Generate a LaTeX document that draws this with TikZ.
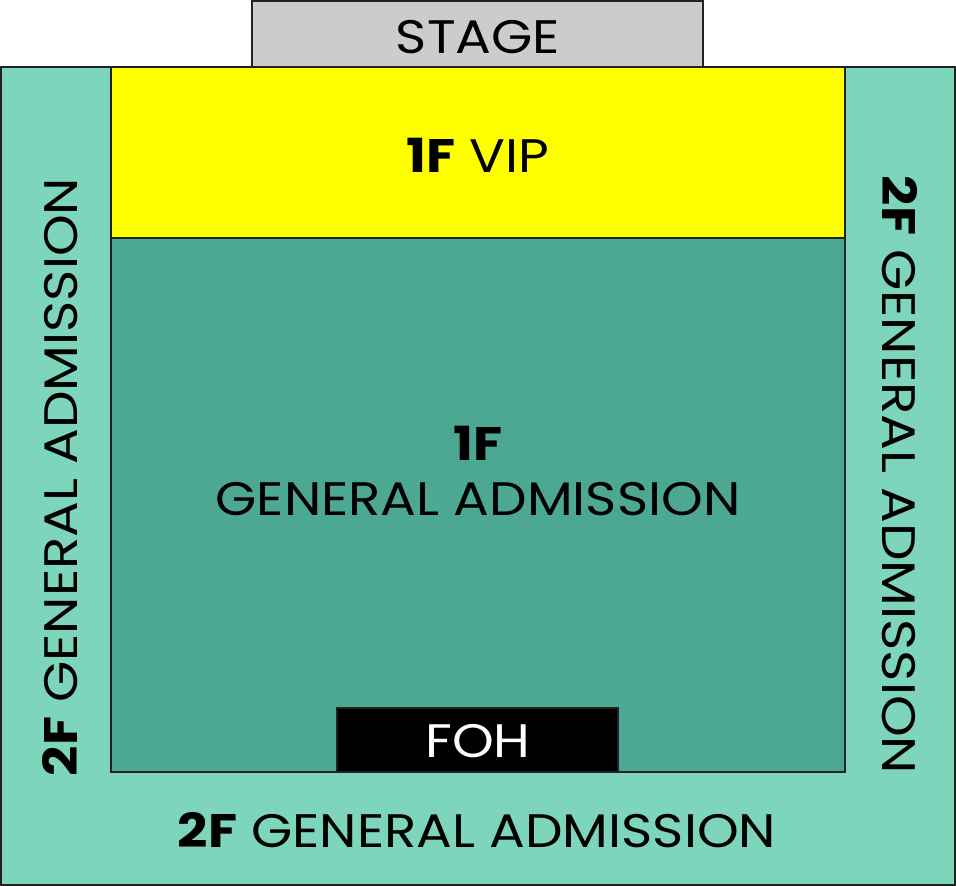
\documentclass[tikz,border=0pt]{standalone}
\usepackage{fontspec}
\setmainfont{Poppins}[FakeStretch=1.13]
\usepackage{xcolor}
\usepackage{tikz}
\usetikzlibrary{positioning}

\definecolor{gaouter}{HTML}{7DD6BB}
\definecolor{gainner}{HTML}{4CA893}
\definecolor{vipyellow}{HTML}{FFFF00}
\definecolor{stagegray}{HTML}{CCCCCC}
\definecolor{zoneedge}{HTML}{222222}

\begin{document}
\begin{tikzpicture}[x=1pt,y=-1pt,
	zone/.style={draw=zoneedge,line width=2pt},
	zonetext/.style={font=\fontsize{47}{55}\selectfont,inner sep=0pt,align=center}]
	\useasboundingbox (0,0) rectangle (956,886);
	\fill[white] (0,0) rectangle (956,886);
	\draw[zone,fill=stagegray] (252,1) rectangle (703,67);
	\draw[zone,fill=gaouter] (1,67) rectangle (955,885);
	\draw[zone,fill=vipyellow] (111,67) rectangle (845,238);
	\draw[zone,fill=gainner] (111,238) rectangle (845,772);
	\draw[zone,fill=black] (337,708) rectangle (618,772);
	\node[zonetext] (stage) at (478,37) {STAGE};
	\node[zonetext] (vip) at (478,155) {\textbf{1F} VIP};
	\node[zonetext] (gafloor) at (478,471) {\textbf{1F}\\GENERAL ADMISSION};
	\node[zonetext,text=white] (foh) at (478,741) {FOH};
	\node[zonetext,rotate=90] (galeft) at (60,477) {\textbf{2F} GENERAL ADMISSION};
	\node[zonetext,rotate=-90] (garight) at (900,475) {\textbf{2F} GENERAL ADMISSION};
	\node[zonetext] (gaback) at (477,830) {\textbf{2F} GENERAL ADMISSION};
\end{tikzpicture}
\end{document}
